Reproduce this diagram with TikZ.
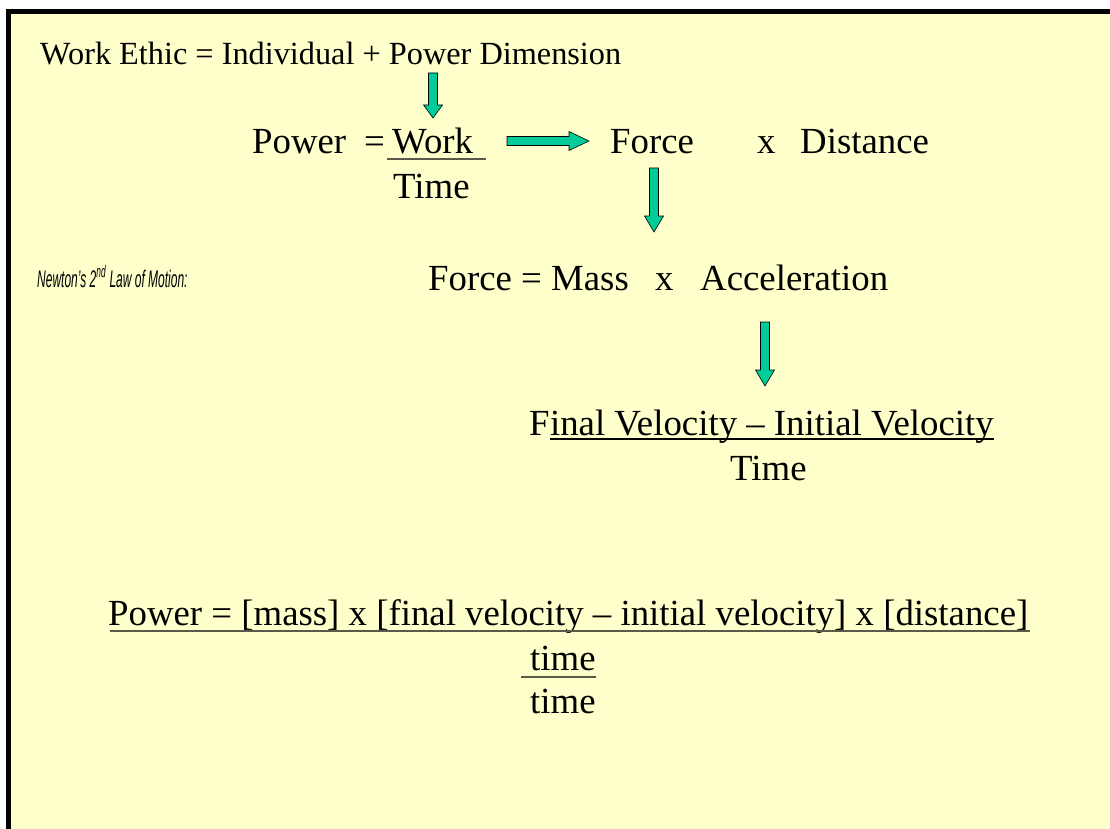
\documentclass[tikz,border=0pt]{standalone}
\usepackage{fontspec}
\setmainfont{Liberation Serif}
\newfontfamily\newtonfont[FakeStretch=0.5]{Liberation Sans}
\usetikzlibrary{calc}

\definecolor{slideyellow}{HTML}{FFFFCC}
\definecolor{arrowgreen}{HTML}{00CC99}
\definecolor{rulegray}{HTML}{5A5A4A}

\begin{document}
\begin{tikzpicture}[
        x=1pt, y=-1pt,
        big/.style={anchor=base west, inner sep=0pt, font=\fontsize{36.8}{40}\selectfont},
        small/.style={anchor=base west, inner sep=0pt, font=\fontsize{32.3}{35}\selectfont},
        note/.style={anchor=base west, inner sep=0pt, font=\newtonfont\itshape\fontsize{24}{28}\selectfont},
        fracrule/.style={draw=rulegray, line width=1.4pt},
        blockarrow/.style={draw=black, line width=0.6pt, fill=arrowgreen, line join=miter,
            to path={($(\tikztostart)!4.5pt!90:(\tikztotarget)$)
                -- ($(\tikztotarget)!#1!(\tikztostart)!4.5pt!-90:(\tikztostart)$)
                -- ($(\tikztotarget)!#1!(\tikztostart)!9.5pt!-90:(\tikztostart)$)
                -- (\tikztotarget)
                -- ($(\tikztotarget)!#1!(\tikztostart)!9.5pt!90:(\tikztostart)$)
                -- ($(\tikztotarget)!#1!(\tikztostart)!4.5pt!90:(\tikztostart)$)
                -- ($(\tikztostart)!4.5pt!-90:(\tikztotarget)$) -- cycle}},
        blockarrow/.default=15pt
    ]
        % slide frame
        \clip (0,0) rectangle (1110,829);
        \fill[white] (0,0) rectangle (1110,829);
        \draw[line width=5pt, fill=slideyellow] (8.5,11.5) rectangle (1140,860);

        % top line
        \node[small] (ethic) at (40,65) {Work Ethic = Individual + Power Dimension};

        % power = work / time
        \node[big] (power) at (252,154) {Power};
        \node[big] (eq) at (364,154) {=};
        \node[big] (work) at (392,154) {Work};
        \node[big] (time1) at (393,198) {Time};
        \draw[fracrule] ($(work.base west)+(-5,5)$) -- ($(work.base east)+(13,5)$);

        \node[big] (force) at (610,154) {Force};
        \node[big] (times1) at (757,154) {x};
        \node[big] (dist) at (800,154) {Distance};

        % newton
        \node[note] (newton) at (37,287) {Newton’s 2\textsuperscript{nd} Law of Motion:};
        \node[big] (fma) at (428,290) {Force = Mass};
        \node[big] (times2) at (655,290) {x};
        \node[big] (accel) at (700,290) {Acceleration};

        % acceleration
        \node[big] (fF) at (529,435) {F};
        \node[big] (vel) at (fF.base east) {inal Velocity – Initial Velocity};
        \draw[fracrule, draw=black] ($(vel.base west)+(0,4)$) -- ($(vel.base east)+(0,4)$);
        \node[big] (time2) at (730,480) {Time};

        % result
        \node[big] (result) at (108,625) {Power = [mass] x [final velocity – initial velocity] x [distance]};
        \draw[fracrule] ($(result.base west)+(2,6)$) -- ($(result.base east)+(2,6)$);
        \node[big] (timeA) at (530,670) {time};
        \draw[fracrule] ($(timeA.base west)+(-9,7)$) -- ($(timeA.base east)+(0,7)$);
        \node[big] (timeB) at (530,713) {time};

        % arrows
        \coordinate (a1s) at (433,73);
        \coordinate (a1e) at (433,118);
        \coordinate (a2s) at (507,141);
        \coordinate (a2e) at (589,141);
        \coordinate (a3s) at (654,168);
        \coordinate (a3e) at (654,232);
        \coordinate (a4s) at (765,322);
        \coordinate (a4e) at (765,386);
        \draw[blockarrow=13pt] (a1s) to (a1e);
        \draw[blockarrow=20pt] (a2s) to (a2e);
        \draw[blockarrow=16pt] (a3s) to (a3e);
        \draw[blockarrow=16pt] (a4s) to (a4e);
    \end{tikzpicture}
\end{document}
